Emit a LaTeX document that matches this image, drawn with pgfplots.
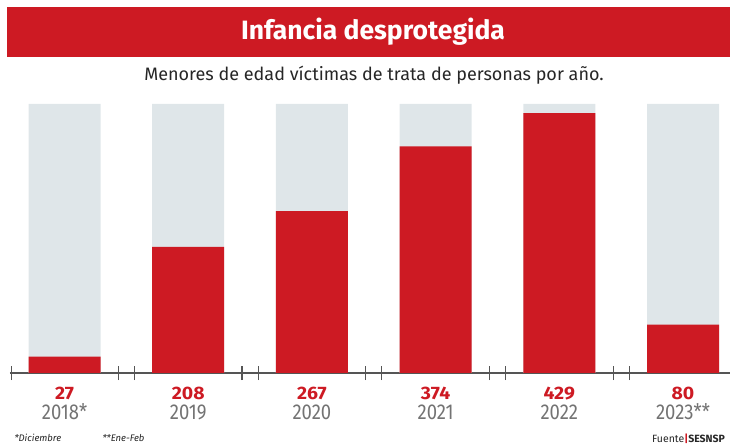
\documentclass[border=0pt]{standalone}
\usepackage{pgfplots}
\pgfplotsset{compat=1.18}
\usepackage{fontspec}
\setmainfont{Fira Sans}
\newfontfamily\valfam[FakeStretch=1.08]{Fira Sans}
\newfontfamily\yearfam[FakeStretch=0.86]{Fira Sans}
\definecolor{redc}{RGB}{205,26,35}
\definecolor{bgbar}{RGB}{223,230,233}
\definecolor{axgrey}{RGB}{85,85,85}
\definecolor{yeargrey}{RGB}{115,115,115}
\newcommand{\val}[1]{\textcolor{redc}{\valfam\bfseries\fontsize{18}{20}\selectfont #1}}
\newcommand{\yr}[1]{{\yearfam\fontsize{21.5}{20}\selectfont #1}}
\begin{document}
\begin{tikzpicture}[x=1pt,y=1pt]
\useasboundingbox (0,0) rectangle (730,444);
\clip (0,0) rectangle (730,444);
% banner
\fill[redc] (7,387) rectangle (731,437);
\node[anchor=base, text=white, font=\fontsize{26.5}{26.5}\selectfont\bfseries] at (373,404.7) {Infancia desprotegida};
\node[anchor=base, text=black!85, font=\fontsize{18}{18}\selectfont] at (374,363.3) {Menores de edad víctimas de trata de personas por año.};
\begin{axis}[
  at={(10pt,71pt)}, anchor=south west,
  scale only axis, width=720pt, height=269pt,
  xmin=-0.441, xmax=5.38, ymin=0, ymax=444,
  axis y line=none, axis x line*=bottom,
  axis line style={axgrey, line width=1.4pt},
  x axis line style={-},
  xtick={0,1,2,3,4,5},
  xticklabels={
    {\val{27}\\\yr{2018*}},
    {\val{208}\\\yr{2019}},
    {\val{267}\\\yr{2020}},
    {\val{374}\\\yr{2021}},
    {\val{429}\\\yr{2022}},
    {\val{80}\\\yr{2023**}}},
  major tick length=0pt,
  xticklabel style={align=center, text=yeargrey, font=\fontsize{21.5}{20}\selectfont, anchor=base, yshift=-46.3pt, inner sep=0pt},
  extra x ticks={-0.43,0.435,0.565,1.435,1.565,2.435,2.565,3.435,3.565,4.435,4.565},
  extra x tick labels={},
  extra x tick style={major tick length=14pt, tick align=center, tick style={axgrey, line width=1.2pt}},
  ytick=\empty,
  clip=false,
]
\addplot[ybar, bar width=72pt, bar shift=0pt, fill=bgbar, draw=none] coordinates {(0,444) (1,444) (2,444) (3,444) (4,444) (5,444)};
\addplot[ybar, bar width=72pt, bar shift=0pt, fill=redc, draw=none] coordinates {(0,27) (1,208) (2,267) (3,374) (4,429) (5,80)};
\end{axis}
\node[anchor=west, font=\fontsize{9.5}{10}\selectfont\itshape, text=black!85] at (11,6) {*Diciembre};
\node[anchor=west, font=\fontsize{9.5}{10}\selectfont\itshape, text=black!85] at (99,6) {**Ene-Feb};
\node[anchor=west, font=\fontsize{10.5}{11}\selectfont, text=black!85, inner sep=0pt] at (652,5) {Fuente\textcolor{redc}{\bfseries|}\textbf{SESNSP}};
\end{tikzpicture}
\end{document}
